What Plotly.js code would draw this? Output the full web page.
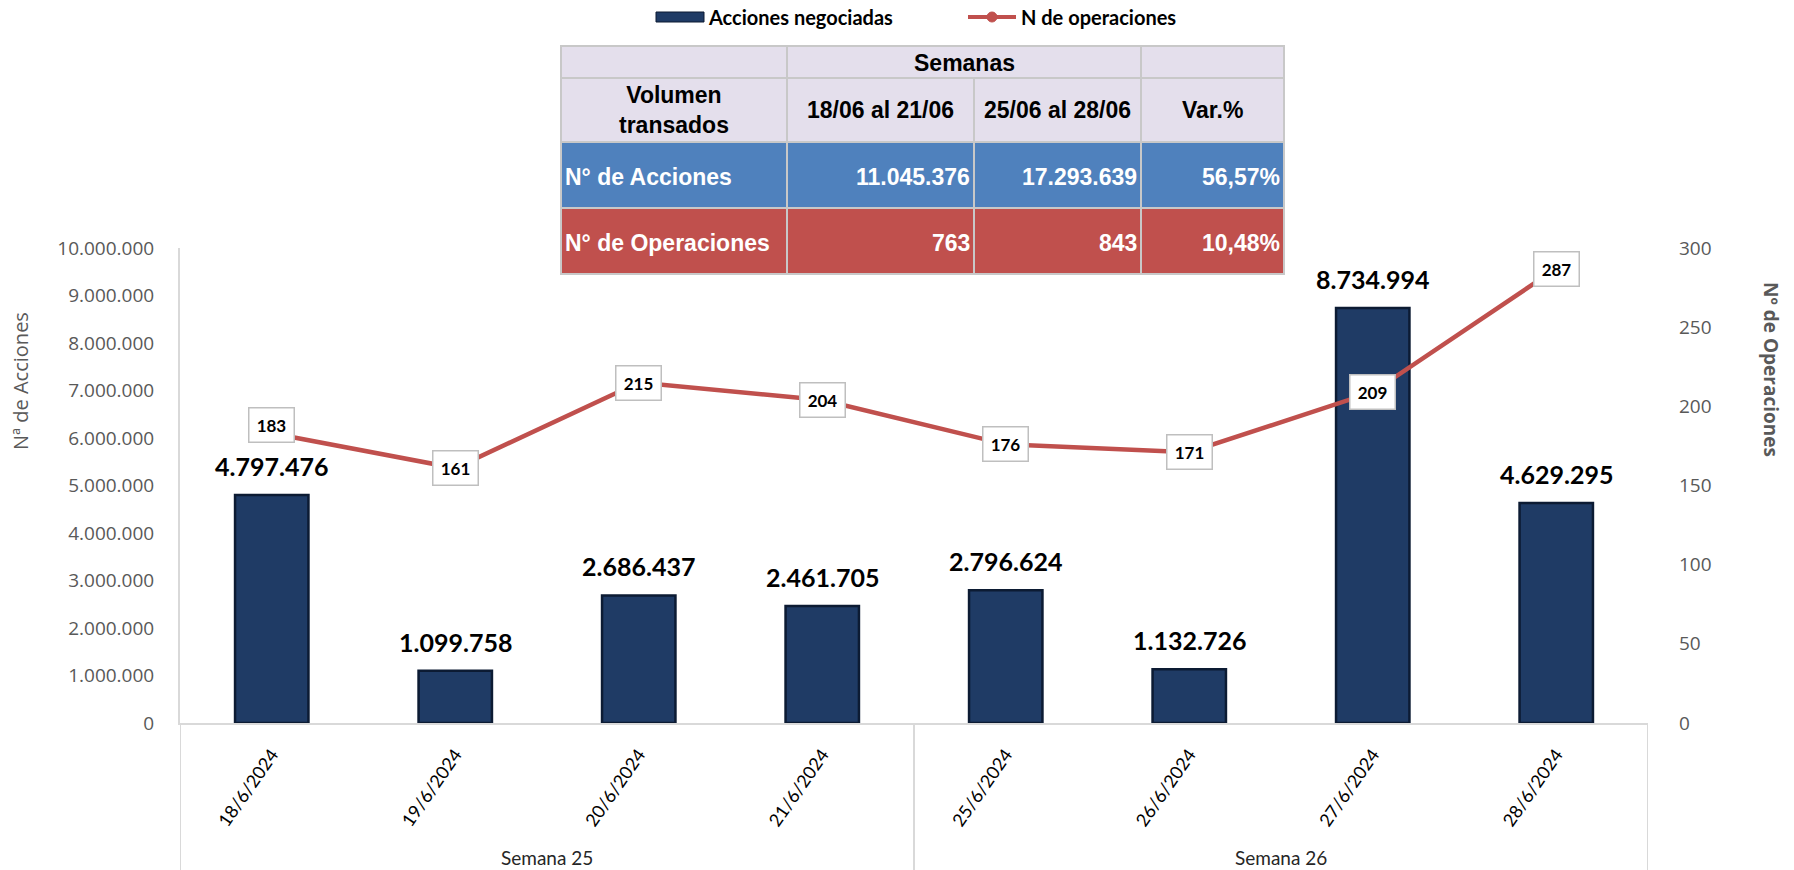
<!DOCTYPE html>
<html><head><meta charset="utf-8">
<script src="https://cdn.plot.ly/plotly-3.0.1.min.js"></script>
<style>html,body{margin:0;padding:0;background:#fff}#chart{width:1794px;height:870px}</style>
</head><body><div id="chart"></div>
<script>
// ---- data ----
const fechas = ['18/6/2024','19/6/2024','20/6/2024','21/6/2024','25/6/2024','26/6/2024','27/6/2024','28/6/2024'];
const semanaDeFecha = [0,0,0,0,1,1,1,1];
const semanas = ['Semana 25','Semana 26'];
const acciones = [4797476,1099758,2686437,2461705,2796624,1132726,8734994,4629295];
const operaciones = [183,161,215,204,176,171,209,287];
const serieBarras = 'Acciones negociadas';
const serieLinea = 'N de operaciones';
const tituloIzq = 'Nª de Acciones';
const tituloDer = 'Nº de Operaciones';
const tablaFila1 = ['', 'Semanas', ''];
const tablaFila2 = ['Volumen<br>transados', '18/06 al 21/06', '25/06 al 28/06', 'Var.%'];
const tablaAcciones = ['N° de Acciones', '11.045.376', '17.293.639', '56,57%'];
const tablaOperaciones = ['N° de Operaciones', '763', '843', '10,48%'];

// ---- layout geometry (pixels) ----
const W = 1794, H = 870;
const PL = 180, PR = 1648, PT = 248, PB = 723;
const px = v => (v - PL) / (PR - PL);
const py = v => (PB - v) / (PB - PT);
const fmt = v => String(v).replace(/\B(?=(\d{3})+(?!\d))/g, '.');

const NAVY = '#1F3B65', NAVY_EDGE = '#0C1B33', RED = '#C0504D', BLUE = '#4F81BD', LAV = '#E4DFEC', GRID = '#D9D9D9';
const shapes = [], annotations = [];

// extended category box lines
const bottomY = py(H);
const bounds = [-0.5];
semanas.forEach((s, g) => {
  const idx = semanaDeFecha.map((w, i) => w === g ? i : -1).filter(i => i >= 0);
  bounds.push(Math.max(...idx) + 0.5);
  annotations.push({x: (Math.min(...idx) + Math.max(...idx)) / 2, xref: 'x', y: py(857), yref: 'paper',
    xanchor: 'center', yanchor: 'middle',
    text: s, showarrow: false, font: {family: 'Lato', size: 19, color: '#262626'}});
});
bounds.forEach(b => shapes.push({type: 'line', xref: 'x', yref: 'paper', x0: b, x1: b, y0: 0, y1: bottomY,
  line: {color: GRID, width: 2}}));

// bar value labels
acciones.forEach((v, i) => annotations.push({x: fechas[i], y: v, xref: 'x', yref: 'y', yanchor: 'bottom',
  yshift: 12, text: '<b>' + fmt(v) + '</b>', showarrow: false,
  font: {family: 'Lato', size: 25, color: '#000'}}));

// line value labels
operaciones.forEach((v, i) => annotations.push({x: fechas[i], y: v, xref: 'x', yref: 'y2',
  xanchor: 'center', yanchor: 'middle',
  yshift: i === 0 ? 8 : 0, text: '<b>' + v + '</b>', showarrow: false, width: 38, height: 27,
  bgcolor: '#fff', bordercolor: '#BFBFBF', borderwidth: 1.5, borderpad: 3,
  font: {family: 'Lato', size: 17, color: '#000'}}));

// axis titles
annotations.push({x: px(20), y: py(381), xref: 'paper', yref: 'paper', xanchor: 'center', yanchor: 'middle',
  text: tituloIzq, textangle: -90,
  showarrow: false, font: {family: 'Open Sans', size: 20, color: '#595959'}});
annotations.push({x: px(1771), y: py(369), xref: 'paper', yref: 'paper', xanchor: 'center', yanchor: 'middle',
  text: '<b>' + tituloDer + '</b>', textangle: 90,
  showarrow: false, font: {family: 'Open Sans', size: 19, color: '#595959'}});

// custom legend
shapes.push({type: 'rect', xref: 'paper', yref: 'paper', x0: px(656), x1: px(704), y0: py(22), y1: py(12),
  fillcolor: NAVY, line: {color: NAVY_EDGE, width: 1}});
shapes.push({type: 'line', xref: 'paper', yref: 'paper', x0: px(968), x1: px(1016), y0: py(17), y1: py(17),
  line: {color: RED, width: 4}});
shapes.push({type: 'circle', xref: 'paper', yref: 'paper', x0: px(987), x1: px(997), y0: py(22), y1: py(12),
  fillcolor: RED, line: {color: RED, width: 1}});
annotations.push({x: px(706), y: py(17), xref: 'paper', yref: 'paper', xanchor: 'left', yanchor: 'middle',
  text: '<b>' + serieBarras + '</b>',
  showarrow: false, font: {family: 'Lato', size: 20, color: '#000'}});
annotations.push({x: px(1019), y: py(17), xref: 'paper', yref: 'paper', xanchor: 'left', yanchor: 'middle',
  text: '<b>' + serieLinea + '</b>',
  showarrow: false, font: {family: 'Lato', size: 20, color: '#000'}});

// table
const cols = [561, 787, 974, 1141, 1284];
const rows = [46, 78, 142, 208, 274];
const tf = (c) => ({family: 'Liberation Sans, Arial', size: 23, color: c});
function cell(x0, x1, y0, y1, fill) {
  shapes.push({type: 'rect', xref: 'paper', yref: 'paper', x0: px(x0), x1: px(x1), y0: py(y1), y1: py(y0),
    fillcolor: fill, line: {color: '#C8C8C8', width: 2}});
}
cell(cols[0], cols[1], rows[0], rows[1], LAV);
cell(cols[1], cols[3], rows[0], rows[1], LAV);
cell(cols[3], cols[4], rows[0], rows[1], LAV);
annotations.push({x: px((cols[1] + cols[3]) / 2), y: py(63), xref: 'paper', yref: 'paper', showarrow: false,
  xanchor: 'center', yanchor: 'middle',
  text: '<b>' + tablaFila1[1] + '</b>', font: tf('#000')});
[[tablaFila2, LAV, '#000', 1], [tablaAcciones, BLUE, '#fff', 2], [tablaOperaciones, RED, '#fff', 3]].forEach(([vals, fill, col, r]) => {
  vals.forEach((t, c) => {
    cell(cols[c], cols[c + 1], rows[r], rows[r + 1], fill);
    const yc = py((rows[r] + rows[r + 1]) / 2 + (r === 1 ? 0 : 2));
    let x, xa;
    if (r === 1) { x = px((cols[c] + cols[c + 1]) / 2); xa = 'center'; }
    else if (c === 0) { x = px(cols[c] + 2); xa = 'left'; }
    else { x = px(cols[c + 1] - 2); xa = 'right'; }
    annotations.push({x: x, y: yc, xref: 'paper', yref: 'paper', xanchor: xa, yanchor: 'middle', showarrow: false,
      text: '<b>' + t + '</b>', font: tf(col)});
  });
});

const data = [
  {type: 'bar', x: fechas, y: acciones, name: serieBarras, width: 0.4, yaxis: 'y',
   marker: {color: NAVY, line: {color: NAVY_EDGE, width: 2.5}}, hoverinfo: 'x+y'},
  {type: 'scatter', mode: 'lines', x: fechas, y: operaciones, name: serieLinea, yaxis: 'y2',
   line: {color: RED, width: 4.5}}
];

const layout = {
  width: W, height: H, showlegend: false, separators: ',.',
  paper_bgcolor: '#fff', plot_bgcolor: 'rgba(0,0,0,0)',
  margin: {l: PL, r: W - PR, t: PT, b: H - PB, pad: 0},
  xaxis: {type: 'category', range: [-0.5, 7.5], tickangle: -55, ticks: '', ticklabelstandoff: 12,
    tickfont: {family: 'Lato', size: 18, color: '#000'}, showline: true, linecolor: GRID, linewidth: 2,
    showgrid: false, zeroline: false, automargin: false},
  yaxis: {range: [0, 10000000], dtick: 1000000, tickformat: ',.0f', ticks: '', ticklabelstandoff: 20,
    tickfont: {family: 'Open Sans', size: 19, color: '#595959'}, showline: true, linecolor: GRID, linewidth: 2,
    showgrid: false, zeroline: false, automargin: false},
  yaxis2: {range: [0, 300], dtick: 50, overlaying: 'y', side: 'right', ticks: '', ticklabelstandoff: 30,
    tickfont: {family: 'Open Sans', size: 19, color: '#595959'}, showline: false, showgrid: false,
    zeroline: false, automargin: false},
  shapes: shapes, annotations: annotations
};
Plotly.newPlot('chart', data, layout, {displayModeBar: false, responsive: false});
</script>
</body></html>
